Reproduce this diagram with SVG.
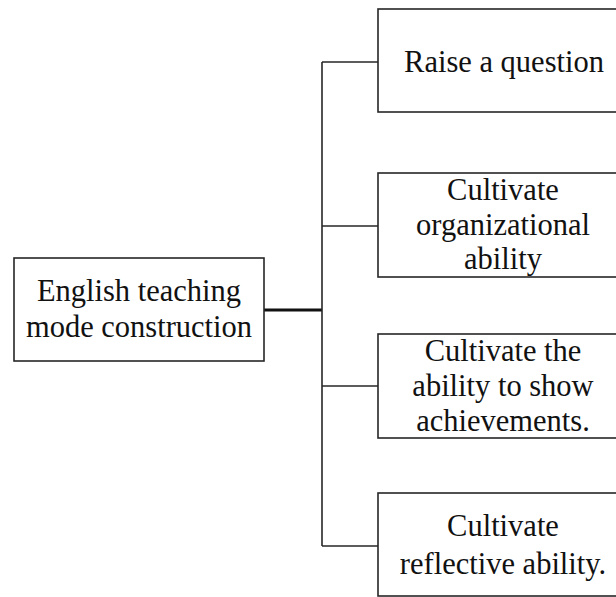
<svg xmlns="http://www.w3.org/2000/svg" width="616" height="597" viewBox="0 0 616 597">
<style>
.box{fill:#fff;stroke:#262626;stroke-width:1.6}
.t{font-family:"Liberation Serif","Times New Roman",serif;font-size:30.5px;fill:#111;text-anchor:middle}
.ln{stroke:#262626;stroke-width:1.6;fill:none}
.thick{stroke:#111;stroke-width:3;fill:none}
</style>
<rect width="616" height="597" fill="#fff"/>
<g id="connectors">
<line class="thick" x1="264" y1="310" x2="322" y2="310"/>
<line class="ln" x1="322" y1="62" x2="322" y2="546"/>
<line class="ln" x1="322" y1="62" x2="378" y2="62"/>
<line class="ln" x1="322" y1="226" x2="378" y2="226"/>
<line class="ln" x1="322" y1="386" x2="378" y2="386"/>
<line class="ln" x1="322" y1="546" x2="378" y2="546"/>
</g>
<g id="root">
<rect class="box" x="14" y="258" width="250" height="103"/>
<text class="t" x="139" y="301">English teaching</text>
<text class="t" x="139" y="337">mode construction</text>
</g>
<g id="n1">
<rect class="box" x="378" y="9" width="250" height="103"/>
<text class="t" x="504" y="72">Raise a question</text>
</g>
<g id="n2">
<rect class="box" x="378" y="173" width="250" height="104"/>
<text class="t" x="503" y="200">Cultivate</text>
<text class="t" x="503" y="235">organizational</text>
<text class="t" x="503" y="269">ability</text>
</g>
<g id="n3">
<rect class="box" x="378" y="334" width="250" height="104"/>
<text class="t" x="503" y="361">Cultivate the</text>
<text class="t" x="503" y="396">ability to show</text>
<text class="t" x="503" y="431">achievements.</text>
</g>
<g id="n4">
<rect class="box" x="378" y="493" width="250" height="103"/>
<text class="t" x="503" y="536">Cultivate</text>
<text class="t" x="503" y="574">reflective ability.</text>
</g>
</svg>
